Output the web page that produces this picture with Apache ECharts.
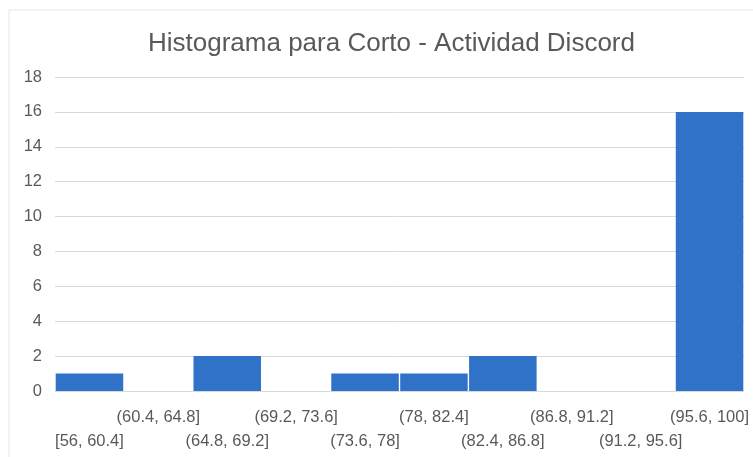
<!DOCTYPE html>
<html>
<head>
<meta charset="utf-8">
<script src="https://cdn.jsdelivr.net/npm/echarts@6/dist/echarts.min.js"></script>
<style>
  html, body { margin: 0; padding: 0; background: #fff; }
  #main { width: 753px; height: 457px; }
</style>
</head>
<body>
<div id="main"></div>
<script>
// histogram bins and counts
var bins = ['[56, 60.4]', '(60.4, 64.8]', '(64.8, 69.2]', '(69.2, 73.6]', '(73.6, 78]',
            '(78, 82.4]', '(82.4, 86.8]', '(86.8, 91.2]', '(91.2, 95.6]', '(95.6, 100]']
var counts = [1, 0, 2, 0, 1, 1, 2, 0, 0, 16]

var chart = echarts.init(document.getElementById('main'))

var option = {
    animation: false,
    backgroundColor: '#fff',
    textStyle: { fontFamily: 'Liberation Sans' },
    title: {
        text: 'Histograma para Corto - Actividad Discord',
        left: 143,
        top: 26,
        textStyle: { fontSize: 26, fontWeight: 'normal', color: '#595959', fontFamily: 'Liberation Sans' }
    },
    graphic: [{
        type: 'rect',
        shape: { x: 9, y: 10, width: 760, height: 460 },
        style: { fill: 'none', stroke: '#e6e6e6', lineWidth: 1 },
        silent: true
    }],
    grid: { left: 55, right: 9, top: 77, bottom: 66 },
    xAxis: {
        type: 'category',
        data: bins,
        axisTick: { show: false },
        axisLine: { lineStyle: { color: '#d9d9d9' } },
        axisLabel: {
            interval: 0,
            color: '#595959',
            fontSize: 16.5,
            margin: 14,
            lineHeight: 24,
            verticalAlign: 'top',
            formatter: function(value, index) {
                // Excel staggers the labels in two rows
                return index % 2 === 0 ? '\n' + value : value
            }
        }
    },
    yAxis: {
        type: 'value',
        min: 0,
        max: 18,
        interval: 2,
        axisLine: { show: false },
        axisTick: { show: false },
        axisLabel: { color: '#595959', fontSize: 16.5, margin: 13 },
        splitLine: { lineStyle: { color: '#d9d9d9' } }
    },
    series: [{
        type: 'bar',
        data: counts,
        barCategoryGap: '2%',
        itemStyle: { color: '#3172c9', borderColor: '#ffffff', borderWidth: 0 }
    }]
}

chart.setOption(option)
</script>
</body>
</html>
